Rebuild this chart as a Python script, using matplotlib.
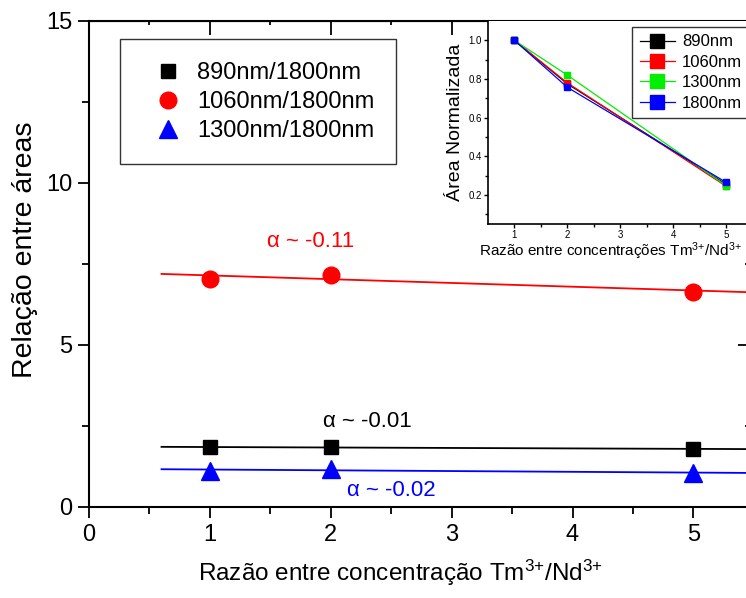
import numpy as np
import matplotlib
matplotlib.use("Agg")
import matplotlib.pyplot as plt

plt.rcParams['font.family'] = ['Liberation Sans', 'DejaVu Sans']
plt.rcParams['mathtext.fontset'] = 'custom'
plt.rcParams['mathtext.rm'] = 'Liberation Sans'
plt.rcParams['mathtext.it'] = 'Liberation Sans:italic'
plt.rcParams['mathtext.default'] = 'regular'

# main chart data: area ratios vs Tm/Nd concentration ratio
ratio = [1, 2, 5]
r890 = [1.84, 1.85, 1.79]
r1060 = [7.05, 7.16, 6.65]
r1300 = [1.12, 1.18, 1.05]
series_labels = ['890nm/1800nm', '1060nm/1800nm', '1300nm/1800nm']
alpha_labels = ['α ~ -0.01', 'α ~ -0.11', 'α ~ -0.02']

# inset data: normalised areas
inset_labels = ['890nm', '1060nm', '1300nm', '1800nm']
n890 = [1.0, 0.775, 0.255]
n1060 = [1.0, 0.78, 0.245]
n1300 = [1.0, 0.82, 0.248]
n1800 = [1.0, 0.757, 0.265]

fit_range = [0.6, 5.5]

fig = plt.figure(figsize=(7.46, 5.98), dpi=100)
ax = fig.add_axes([0.1193, 0.1522, 0.8847, 0.8127])

styles = [('black', 's', 10.5), ('red', 'o', 12), ('blue', '^', 12.5)]
for ys, lab, (c, m, ms) in zip([r890, r1060, r1300], series_labels, styles):
    ax.plot(ratio, ys, ls='none', marker=m, color=c, ms=ms, label=lab, zorder=3)
    k, b = np.polyfit(ratio, ys, 1)
    xf = np.array(fit_range)
    ax.plot(xf, k * xf + b, color=c, lw=1.3, zorder=2)

ax.text(2.3, 2.65, alpha_labels[0], color='black', fontsize=16, ha='center', va='center')
ax.text(1.83, 8.2, alpha_labels[1], color='red', fontsize=16, ha='center', va='center')
ax.text(2.5, 0.52, alpha_labels[2], color='blue', fontsize=16, ha='center', va='center')

ax.set_xlim(0, 5.46)
ax.set_ylim(0, 15)
ax.set_xticks([0, 1, 2, 3, 4, 5])
ax.set_xticks(np.arange(0.5, 5.5, 1), minor=True)
ax.set_yticks([0, 5, 10, 15])
ax.set_yticks([2.5, 7.5, 12.5], minor=True)
ax.tick_params(which='both', labelsize=17, width=1.3, direction='out')
ax.tick_params(which='major', length=8, pad=4)
ax.tick_params(which='minor', length=5)
for s in ax.spines.values():
    s.set_linewidth(1.5)

# inward ticks on top and right
axt = ax.secondary_xaxis('top')
axt.set_xticks([0, 1, 2, 3, 4, 5])
axt.set_xticks(np.arange(0.5, 5.5, 1), minor=True)
axt.tick_params(which='both', direction='in', labeltop=False, width=1.3)
axt.tick_params(which='major', length=10)
axt.tick_params(which='minor', length=3)
axr = ax.secondary_yaxis('right')
axr.set_yticks([0, 5, 10, 15])
axr.set_yticks([2.5, 7.5, 12.5], minor=True)
axr.tick_params(which='both', direction='in', labelright=False, width=1.3)
axr.tick_params(which='major', length=8)
axr.tick_params(which='minor', length=3)

ax.set_xlabel('Razão entre concentração Tm$^{3{+}}$/Nd$^{3{+}}$', fontsize=17.5)
ax.xaxis.set_label_coords(0.472, -0.105)
ax.set_ylabel('Relação entre áreas', fontsize=20.5)
ax.yaxis.set_label_coords(-0.077, 0.529)

leg = ax.legend(loc='upper left', bbox_to_anchor=(0.047, 0.962), fontsize=17,
                frameon=True, fancybox=False, edgecolor='black', borderpad=0.95,
                handlelength=2.2, handletextpad=0.1, labelspacing=0.3,
                borderaxespad=0)
leg.get_frame().set_linewidth(1.0)

# inset
ins = fig.add_axes([0.654, 0.6254, 0.355, 0.3395])
ins_colors = ['black', 'red', '#00ee00', 'blue']
for ys, lab, c in zip([n890, n1060, n1300, n1800], inset_labels, ins_colors):
    ins.plot(ratio, ys, color=c, marker='s', ms=5, lw=0.9, label=lab)
ins.set_xlim(0.5, 5.5)
ins.set_ylim(0.05, 1.1)
ins.set_xticks([1, 2, 3, 4, 5])
ins.set_xticks(np.arange(1.5, 5.5, 1), minor=True)
ins.set_yticks([0.2, 0.4, 0.6, 0.8, 1.0])
ins.set_yticks([0.1, 0.3, 0.5, 0.7, 0.9], minor=True)
ins.tick_params(which='both', labelsize=7, direction='out', width=1.0)
ins.tick_params(which='major', length=3, pad=1.5)
ins.tick_params(which='minor', length=2)
ins.spines['top'].set_visible(False)
ins.spines['right'].set_visible(False)
ins.spines['left'].set_linewidth(1.2)
ins.spines['bottom'].set_linewidth(1.2)
ins.set_xlabel('Razão entre concentrações Tm$^{3{+}}$/Nd$^{3{+}}$', fontsize=11)
ins.xaxis.set_label_coords(0.464, -0.083)
ins.set_ylabel('Área Normalizada', fontsize=14, labelpad=3)
ileg = ins.legend(loc='upper left', bbox_to_anchor=(632 / 746, 1 - 27 / 598),
                  bbox_transform=fig.transFigure, fontsize=12, frameon=True,
                  fancybox=False, edgecolor='black', markerscale=2,
                  handlelength=2.1, handletextpad=0.45, labelspacing=0.32,
                  borderpad=0.45, borderaxespad=0)
ileg.get_frame().set_linewidth(1.0)

fig.savefig('out.png', dpi=100)
